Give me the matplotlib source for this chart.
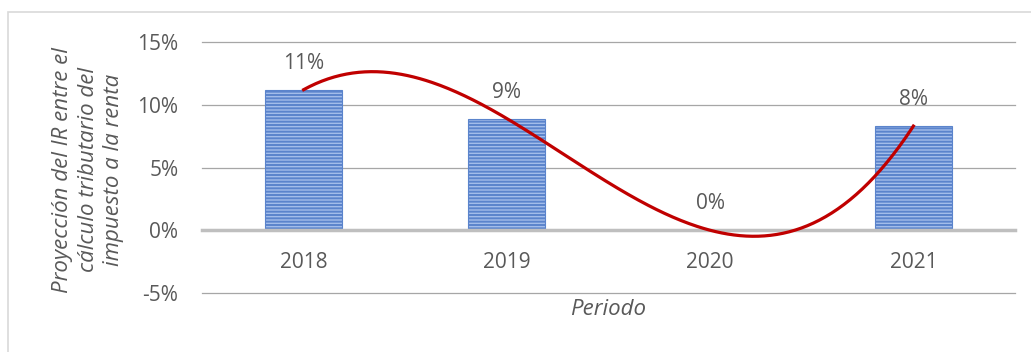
import matplotlib

matplotlib.use("Agg")
import matplotlib.pyplot as plt
import numpy as np
from matplotlib.patches import Rectangle

periods = ["2018", "2019", "2020", "2021"]
ir_values = [0.112, 0.089, 0.0, 0.083]
value_labels = ["11%", "9%", "0%", "8%"]
y_ticks = [-0.05, 0.0, 0.05, 0.10, 0.15]
y_tick_labels = ["-5%", "0%", "5%", "10%", "15%"]

TEXT = "#595959"
plt.rcParams["font.family"] = ["Open Sans", "DejaVu Sans"]
plt.rcParams["hatch.linewidth"] = 1.4
plt.rcParams["hatch.color"] = "#4472C4"

fig = plt.figure(figsize=(10.31, 3.52), dpi=100)
fig.patches.append(Rectangle((8 / 1031, -0.05), 1.2, 1 - 12 / 352 + 0.05,
                             transform=fig.transFigure, fill=False,
                             edgecolor="#D9D9D9", linewidth=1.2))

ax = fig.add_axes([202 / 1031, 1 - 293 / 352, 813 / 1031, 251 / 352])
x = np.arange(len(periods))

ax.bar(x, ir_values, width=0.38, color="#A3BDEA", edgecolor="#5B84CC",
       linewidth=0.8, hatch="-" * 5, zorder=2)

# tendencia polinómica de grado 3
coef = np.polyfit(x, ir_values, 3)
xs = np.linspace(x[0], x[-1], 300)
ax.plot(xs, np.polyval(coef, xs), color="#C00000", linewidth=2.3, zorder=4)

for xi, v, lab in zip(x, ir_values, value_labels):
    ax.annotate(lab, (xi, v), xytext=(0, 19), textcoords="offset points",
                ha="center", va="center", fontsize=15, color=TEXT, zorder=5)
    ax.annotate(periods[xi], (xi, 0), xytext=(0, -23), textcoords="offset points",
                ha="center", va="center", fontsize=15, color=TEXT)

ax.set_xlim(-0.5, len(periods) - 0.5)
ax.set_ylim(-0.05, 0.15)
ax.set_yticks(y_ticks)
ax.set_yticklabels(y_tick_labels, fontsize=15, color=TEXT)
ax.set_xticks([])
ax.tick_params(axis="y", length=0, pad=17)

for t in y_ticks:
    if t == 0:
        ax.axhline(t, color="#BFBFBF", linewidth=2.5, zorder=3, clip_on=False)
    else:
        ax.axhline(t, color="#A6A6A6", linewidth=0.9, zorder=1, clip_on=False)

for s in ax.spines.values():
    s.set_visible(False)

ax.set_xlabel("Periodo", fontsize=16, color=TEXT, style="italic", labelpad=4)
fig.text(88 / 1031, 1 - 170 / 352,
         "Proyección del IR entre el\ncálculo tributario del\nimpuesto a la renta",
         rotation=90, ha="center", va="center", fontsize=16, color=TEXT,
         style="italic", linespacing=1.3)

fig.savefig("out.png", dpi=100)
